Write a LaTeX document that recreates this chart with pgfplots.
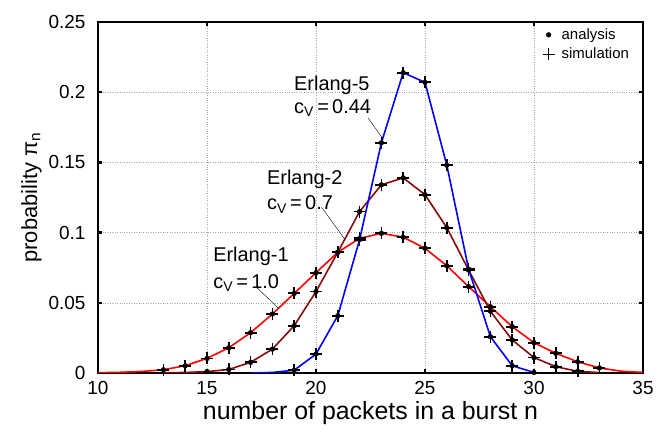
\documentclass[border=0pt]{standalone}
\usepackage{fontspec}
\setmainfont{Liberation Sans}
\usepackage{pgfplots}
\usepackage{pgfplotstable}
\pgfplotsset{compat=1.18}
\usetikzlibrary{calc}

\definecolor{erlA}{RGB}{255,0,0}
\definecolor{erlB}{RGB}{135,10,10}
\definecolor{erlC}{RGB}{0,0,255}

% Erlang-1, c_V = 1.0
\pgfplotstableread{
n p
10 0.0002
11 0.0005
12 0.0011
13 0.0023
14 0.0052
15 0.0104
16 0.0180
17 0.0287
18 0.0420
19 0.0567
20 0.0714
21 0.0860
22 0.0959
23 0.0995
24 0.0967
25 0.0888
26 0.0764
27 0.0615
28 0.0472
29 0.0330
30 0.0216
31 0.0140
32 0.0080
33 0.0036
34 0.0013
35 0.0004
}\erlone

% Erlang-2, c_V = 0.7
\pgfplotstableread{
n p
13 0.0001
14 0.0004
15 0.0010
16 0.0025
17 0.0076
18 0.0170
19 0.0337
20 0.0580
21 0.0860
22 0.1150
23 0.1340
24 0.1390
25 0.1270
26 0.1035
27 0.0734
28 0.0440
29 0.0235
30 0.0110
31 0.0045
32 0.0012
33 0.0003
}\erltwo

% Erlang-5, c_V = 0.44
\pgfplotstableread{
n p
17 0.0000
18 0.0004
19 0.0020
20 0.0135
21 0.0408
22 0.0950
23 0.1640
24 0.2139
25 0.2070
26 0.1480
27 0.0740
28 0.0259
29 0.0052
30 0.0004
}\erlfive

\begin{document}
\begin{tikzpicture}
\begin{axis}[
  scale only axis,
  width=545bp, height=351bp,
  xmin=10, xmax=35, ymin=0, ymax=0.25,
  xtick={10,15,20,25,30,35},
  ytick={0,0.05,0.1,0.15,0.2,0.25},
  scaled y ticks=false,
  yticklabel style={/pgf/number format/fixed, /pgf/number format/precision=2, xshift=-9bp},
  xticklabel style={yshift=-5bp},
  /pgf/number format/assume math mode=true,
  ticklabel style={font=\fontsize{19}{19}\selectfont},
  grid=major,
  grid style={dotted, gray!70, line width=0.6pt},
  axis line style={line width=2.6pt},
  tick style={black, line width=2.4pt},
  major tick length=4bp,
  xlabel={number of packets in a burst n},
  ylabel={probability π\textsubscript{n}},
  xlabel style={font=\fontsize{25}{25}\selectfont},
  ylabel style={font=\fontsize{22}{22}\selectfont},
  legend style={at={(0.98,0.99)}, anchor=north east, draw=none, fill=white,
    font=\fontsize{15}{15}\selectfont, inner sep=1pt, row sep=3bp, column sep=5bp},
  legend cell align=left,
]
\coordinate (O) at (rel axis cs:0,0);
\addlegendimage{only marks, mark=*, mark size=2.4bp, black}
\addlegendentry{analysis}
\addlegendimage{only marks, mark=+, mark size=6bp, black, line width=1.2pt}
\addlegendentry{simulation}

% analysis curves
\addplot[erlA, line width=1.6pt, forget plot] table[x=n, y=p] {\erlone};
\addplot[erlB, line width=1.6pt, forget plot] table[x=n, y=p] {\erltwo};
\addplot[erlC, line width=1.6pt, forget plot] table[x=n, y=p] {\erlfive};

% analysis points
\addplot[only marks, mark=*, mark size=2.4bp, black, forget plot,
  restrict x to domain=13:33] table[x=n, y=p] {\erlone};
\addplot[only marks, mark=*, mark size=2.4bp, black, forget plot,
  restrict x to domain=15:32] table[x=n, y=p] {\erltwo};
\addplot[only marks, mark=*, mark size=2.4bp, black, forget plot,
  restrict x to domain=19:30] table[x=n, y=p] {\erlfive};

% simulation points
\addplot[only marks, mark=+, mark size=6bp, black, line width=1.8pt, forget plot,
  restrict x to domain=13:33] table[x=n, y=p] {\erlone};
\addplot[only marks, mark=+, mark size=6bp, black, line width=1.8pt, forget plot,
  restrict x to domain=16:32] table[x=n, y=p] {\erltwo};
\addplot[only marks, mark=+, mark size=6bp, black, line width=1.8pt, forget plot,
  restrict x to domain=19:29] table[x=n, y=p] {\erlfive};

% labels
\draw[black, line width=0.4pt] (axis cs:22.40,0.1814) -- (axis cs:23.06,0.1670);
\draw[black, line width=0.4pt] (axis cs:20.26,0.1180) -- (axis cs:21.32,0.0952);
\draw[black, line width=0.4pt] (axis cs:17.28,0.0609) -- (axis cs:18.28,0.0461);
\node[anchor=west, inner sep=0, font=\fontsize{20}{20}\selectfont] at (axis cs:18.99,0.2050) {Erlang-5};
\node[anchor=west, inner sep=0, font=\fontsize{20}{20}\selectfont] at (axis cs:18.99,0.1890) {c\textsubscript{V}\,=\,0.44};
\node[anchor=west, inner sep=0, font=\fontsize{20}{20}\selectfont] at (axis cs:17.75,0.1380) {Erlang-2};
\node[anchor=west, inner sep=0, font=\fontsize{20}{20}\selectfont] at (axis cs:17.75,0.1200) {c\textsubscript{V}\,=\,0.7};
\node[anchor=west, inner sep=0, font=\fontsize{20}{20}\selectfont] at (axis cs:15.28,0.0830) {Erlang-1};
\node[anchor=west, inner sep=0, font=\fontsize{20}{20}\selectfont] at (axis cs:15.28,0.0640) {c\textsubscript{V}\,=\,1.0};
\end{axis}
\path ($(O)+(-98bp,-62bp)$) rectangle ($(O)+(573bp,373bp)$);
\end{tikzpicture}
\end{document}
